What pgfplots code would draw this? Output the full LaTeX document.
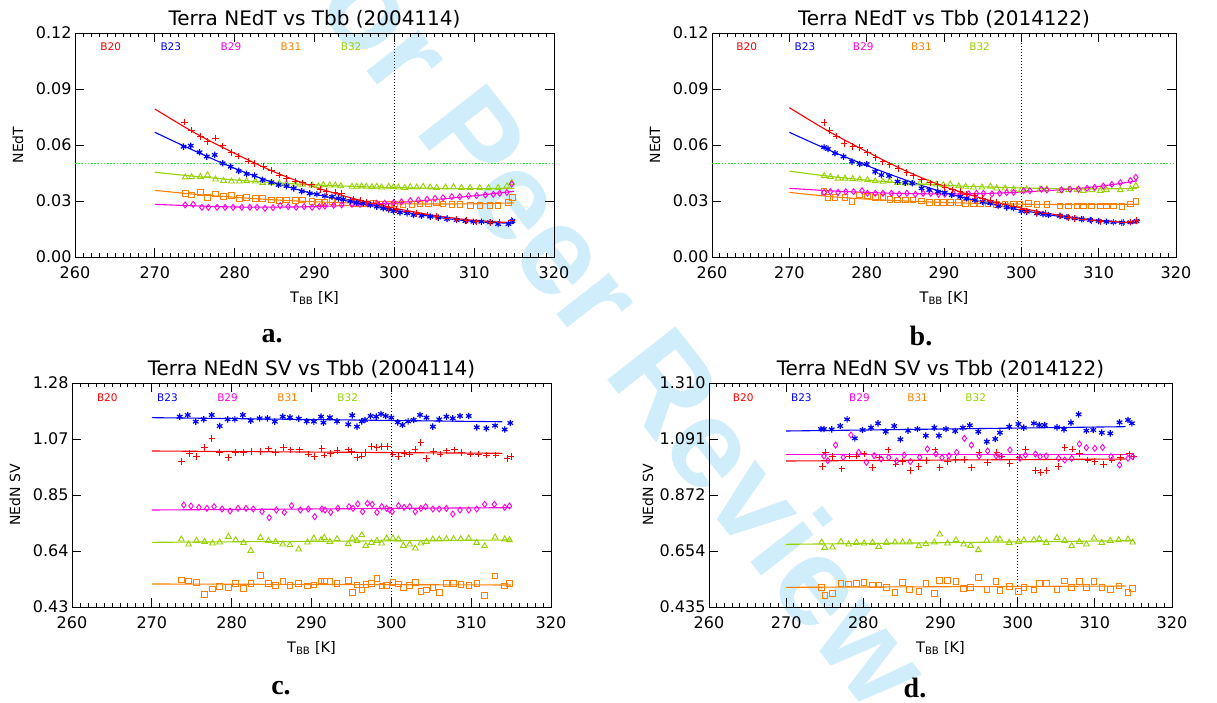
\documentclass[border=0pt]{standalone}
\usepackage{fontspec}
\setmainfont{DejaVu Sans}
\newfontfamily\serifb{Liberation Serif}
\newfontfamily\wmfont{Liberation Sans}
\usepackage{pgfplots}
\pgfplotsset{compat=1.18}
\definecolor{c20}{RGB}{255,0,0}
\definecolor{c23}{RGB}{0,0,255}
\definecolor{c29}{RGB}{255,0,220}
\definecolor{c31}{RGB}{255,128,0}
\definecolor{c32}{RGB}{150,210,0}
\definecolor{wm}{RGB}{207,237,250}
\definecolor{gline}{RGB}{40,230,40}
\pgfplotsset{
  myax/.style={
    scale only axis, anchor=south west, height=224pt,
    xmin=260, xmax=320, xtick={260,270,...,320}, minor x tick num=9,
    axis line style={line width=0.9pt},
    major tick length=9pt, minor tick length=4pt,
    tick style={black, line width=0.8pt},
    tick align=inside,
    /pgf/number format/assume math mode=true,
    ticklabel style={font=\fontsize{16}{18}\selectfont},
    xticklabel style={yshift=-6pt},
    title style={font=\fontsize{20}{24}\selectfont, yshift=-5pt},
    xlabel={T\textsubscript{BB} [K]},
    xlabel style={font=\fontsize{14.5}{16}\selectfont, at={(axis description cs:0.5,-0.183)}, anchor=center},
    ylabel style={font=\fontsize{14}{16}\selectfont, rotate=0, anchor=center},
  },
  s20/.style={only marks, mark=+, color=c20, mark size=3.2pt, line width=1pt},
  s23/.style={only marks, mark=asterisk, color=c23, mark size=3.2pt, line width=1.2pt},
  s29/.style={only marks, mark=diamond, color=c29, mark size=3pt, line width=0.9pt},
  s31/.style={only marks, mark=square, color=c31, mark size=2.8pt, line width=0.9pt},
  s32/.style={only marks, mark=triangle, color=c32, mark size=3.3pt, line width=0.9pt},
  l20/.style={color=c20, no marks, line width=1.1pt, smooth},
  l23/.style={color=c23, no marks, line width=1.1pt, smooth},
  l29/.style={color=c29, no marks, line width=1.1pt, smooth},
  l31/.style={color=c31, no marks, line width=1.1pt, smooth},
  l32/.style={color=c32, no marks, line width=1.1pt, smooth},
  vdot/.style={color=black, no marks, line width=0.8pt, dash pattern=on 1pt off 2pt},
  gdot/.style={draw=gline, color=gline, no marks, line width=1.2pt, dash pattern=on 1.6pt off 1.6pt},
}
\newcommand{\bandlabels}[2]{%
  \node[text=c20, font=\fontsize{10.5}{12}\selectfont] at (axis description cs:#1,#2) {B20};
  \node[text=c23, font=\fontsize{10.5}{12}\selectfont] at (axis description cs:#1+0.1255,#2) {B23};
  \node[text=c29, font=\fontsize{10.5}{12}\selectfont] at (axis description cs:#1+0.251,#2) {B29};
  \node[text=c31, font=\fontsize{10.5}{12}\selectfont] at (axis description cs:#1+0.3765,#2) {B31};
  \node[text=c32, font=\fontsize{10.5}{12}\selectfont] at (axis description cs:#1+0.502,#2) {B32};
}
\begin{document}
\begin{tikzpicture}
\path[use as bounding box] (0pt,0pt) rectangle (1217pt,702pt);
\node[rotate=-52, text=wm, font=\wmfont\bfseries\fontsize{126}{128}\selectfont] at (604pt,400pt) {For Peer Review};

% ---------------- panel a ----------------
\begin{axis}[myax, at={(75pt,445pt)}, width=479pt,
  ymin=0, ymax=0.12, ytick={0,0.03,0.06,0.09,0.12}, yticklabels={0.00,0.03,0.06,0.09,0.12},
  title={Terra NEdT vs Tbb (2004114)}, ylabel={NEdT},
  ylabel style={at={(axis description cs:-0.119,0.5)}}]
\addplot[gdot] coordinates {(260,0.05)(320,0.05)};
\addplot[vdot] coordinates {(300,0)(300,0.12)};
\addplot[l32] coordinates {(270,0.0454)(275,0.0432)(280,0.0413)(285,0.0398)(290,0.0386)(295,0.0378)(300,0.0372)(305,0.0368)(310,0.0366)(315,0.0368)};
\addplot[s32] coordinates {(273.8,0.0427)(274.6,0.0429)(275.7,0.0430)(276.6,0.0439)(277.6,0.0416)(278.6,0.0409)(279.6,0.0405)(280.6,0.0405)(281.5,0.0407)(282.6,0.0405)(283.5,0.0398)(284.6,0.0398)(285.6,0.0395)(286.5,0.0391)(287.6,0.0389)(288.5,0.0388)(289.7,0.0384)(290.5,0.0380)(291.1,0.0386)(291.9,0.0384)(292.6,0.0384)(293.3,0.0380)(294.7,0.0377)(295.3,0.0377)(295.9,0.0379)(296.5,0.0377)(297.2,0.0375)(297.8,0.0377)(298.4,0.0373)(299.3,0.0377)(299.9,0.0375)(300.5,0.0373)(301.3,0.0371)(302.0,0.0375)(302.8,0.0373)(303.6,0.0377)(304.5,0.0373)(305.3,0.0371)(306.4,0.0373)(307.4,0.0375)(308.4,0.0371)(309.5,0.0371)(310.7,0.0370)(311.8,0.0370)(313.0,0.0371)(314.1,0.0380)(314.7,0.0398)};
\addplot[l31] coordinates {(270,0.0357)(275,0.0336)(280,0.0320)(285,0.0306)(290,0.0296)(295,0.0289)(300,0.0285)(305,0.0284)(310,0.0285)(315,0.0290)};
\addplot[s31] coordinates {(273.8,0.0341)(274.6,0.0332)(275.7,0.0345)(276.6,0.0318)(277.6,0.0338)(278.6,0.0323)(279.6,0.0329)(280.6,0.0314)(281.5,0.0318)(282.6,0.0314)(283.5,0.0314)(284.6,0.0305)(285.6,0.0302)(286.5,0.0305)(287.6,0.0302)(288.5,0.0305)(289.7,0.0296)(290.5,0.0291)(291.3,0.0293)(292.2,0.0296)(293.0,0.0291)(294.0,0.0291)(294.9,0.0288)(295.7,0.0288)(296.5,0.0284)(297.4,0.0288)(298.2,0.0284)(299.3,0.0282)(300.1,0.0284)(301.1,0.0282)(302.2,0.0282)(303.2,0.0284)(304.3,0.0288)(305.3,0.0291)(306.1,0.0284)(307.2,0.0282)(308.2,0.0282)(309.5,0.0275)(310.7,0.0275)(312.0,0.0275)(313.0,0.0275)(314.3,0.0291)(314.8,0.0320)};
\addplot[l29] coordinates {(270,0.0282)(275,0.0274)(280,0.0268)(285,0.0267)(290,0.0270)(295,0.0278)(300,0.0290)(305,0.0307)(310,0.0328)(315,0.0352)};
\addplot[s29] coordinates {(273.8,0.0279)(274.8,0.0282)(275.9,0.0266)(276.7,0.0266)(277.8,0.0266)(278.8,0.0266)(279.8,0.0266)(280.9,0.0266)(281.9,0.0266)(282.8,0.0266)(283.8,0.0261)(284.8,0.0264)(285.7,0.0275)(286.7,0.0270)(287.7,0.0266)(288.7,0.0270)(289.7,0.0266)(290.6,0.0270)(291.3,0.0273)(292.4,0.0277)(293.4,0.0279)(294.7,0.0282)(295.7,0.0282)(296.7,0.0284)(297.8,0.0288)(298.8,0.0288)(299.9,0.0291)(300.9,0.0296)(302.0,0.0302)(303.0,0.0305)(304.1,0.0309)(305.1,0.0314)(306.1,0.0318)(307.2,0.0323)(308.2,0.0323)(309.3,0.0327)(310.3,0.0329)(311.4,0.0332)(312.4,0.0336)(313.2,0.0341)(314.1,0.0346)(314.7,0.0391)};
\addplot[l23] coordinates {(270,0.0668)(275,0.0568)(280,0.0475)(285,0.0397)(290,0.0338)(295,0.0292)(300,0.0250)(305,0.0215)(310,0.0190)(315,0.0180)};
\addplot[s23] coordinates {(273.6,0.0591)(274.5,0.0596)(275.6,0.0561)(276.5,0.0538)(277.5,0.0547)(278.5,0.0502)(279.5,0.0484)(280.5,0.0461)(281.5,0.0445)(282.5,0.0436)(283.5,0.0413)(284.6,0.0400)(285.5,0.0386)(286.5,0.0380)(287.4,0.0368)(288.4,0.0352)(289.4,0.0341)(290.3,0.0336)(291.3,0.0327)(292.2,0.0323)(293.0,0.0314)(293.6,0.0309)(294.5,0.0300)(295.3,0.0291)(296.1,0.0288)(297.0,0.0279)(297.8,0.0270)(298.6,0.0261)(299.3,0.0255)(299.9,0.0246)(300.7,0.0239)(301.6,0.0234)(302.4,0.0225)(303.4,0.0221)(304.5,0.0216)(305.5,0.0211)(306.6,0.0204)(307.8,0.0198)(308.9,0.0193)(309.9,0.0189)(310.9,0.0189)(312.0,0.0186)(313.0,0.0177)(314.3,0.0177)(314.8,0.0193)};
\addplot[l20] coordinates {(270,0.0793)(275,0.0665)(280,0.0555)(285,0.0455)(290,0.0375)(295,0.0312)(300,0.0262)(305,0.0223)(310,0.0196)(315,0.0184)};
\addplot[s20] coordinates {(273.7,0.0723)(274.6,0.0680)(275.7,0.0645)(276.6,0.0618)(277.6,0.0636)(278.5,0.0595)(279.6,0.0560)(280.5,0.0540)(281.7,0.0514)(282.5,0.0500)(283.6,0.0484)(284.6,0.0463)(285.6,0.0439)(286.5,0.0421)(287.6,0.0407)(288.5,0.0398)(289.6,0.0386)(290.7,0.0362)(291.5,0.0350)(292.6,0.0345)(293.4,0.0341)(294.9,0.0310)(295.7,0.0305)(296.5,0.0296)(297.4,0.0288)(298.2,0.0279)(299.3,0.0266)(300.3,0.0255)(301.6,0.0243)(302.8,0.0234)(304.1,0.0225)(305.3,0.0216)(306.6,0.0207)(307.8,0.0202)(309.1,0.0195)(310.3,0.0189)(312.0,0.0184)(313.2,0.0184)(314.7,0.0195)};
\bandlabels{0.0745}{0.9375}
\end{axis}

% ---------------- panel b ----------------
\begin{axis}[myax, at={(712pt,445pt)}, width=464pt,
  ymin=0, ymax=0.12, ytick={0,0.03,0.06,0.09,0.12}, yticklabels={0.00,0.03,0.06,0.09,0.12},
  title={Terra NEdT vs Tbb (2014122)}, ylabel={NEdT},
  ylabel style={at={(axis description cs:-0.123,0.5)}}]
\addplot[gdot] coordinates {(260,0.05)(320,0.05)};
\addplot[vdot] coordinates {(300,0)(300,0.12)};
\addplot[l32] coordinates {(270,0.0460)(275,0.0433)(280,0.0412)(285,0.0396)(290,0.0384)(295,0.0376)(300,0.0370)(305,0.0366)(310,0.0365)(315,0.0367)};
\addplot[s32] coordinates {(274.5,0.0434)(275.3,0.0430)(276.3,0.0421)(277.2,0.0421)(278.2,0.0418)(279.1,0.0416)(280.1,0.0413)(281.1,0.0407)(282.1,0.0404)(283.0,0.0407)(284.0,0.0398)(285.0,0.0395)(286.0,0.0395)(286.9,0.0395)(288.0,0.0398)(289.0,0.0389)(289.9,0.0386)(290.8,0.0389)(291.9,0.0380)(292.8,0.0377)(293.8,0.0373)(294.9,0.0373)(296.0,0.0377)(296.8,0.0368)(297.9,0.0368)(299.0,0.0363)(300.0,0.0359)(300.7,0.0363)(302.4,0.0363)(303.3,0.0363)(305.0,0.0355)(306.1,0.0359)(307.2,0.0359)(308.0,0.0355)(309.1,0.0359)(310.2,0.0355)(311.0,0.0359)(312.8,0.0359)(314.1,0.0364)(314.8,0.0382)};
\addplot[l31] coordinates {(270,0.0346)(275,0.0325)(280,0.0310)(285,0.0300)(290,0.0292)(295,0.0287)(300,0.0283)(305,0.0281)(310,0.0281)(315,0.0283)};
\addplot[s31] coordinates {(274.5,0.0350)(275.0,0.0318)(275.9,0.0318)(277.2,0.0318)(278.1,0.0296)(279.1,0.0332)(280.1,0.0327)(281.1,0.0318)(282.1,0.0318)(283.0,0.0309)(284.0,0.0305)(285.0,0.0305)(286.0,0.0305)(287.1,0.0300)(288.1,0.0293)(289.1,0.0293)(289.9,0.0293)(290.8,0.0291)(291.9,0.0291)(292.8,0.0288)(293.8,0.0288)(294.7,0.0284)(295.7,0.0284)(296.8,0.0282)(297.9,0.0284)(299.0,0.0284)(299.8,0.0284)(300.9,0.0288)(302.0,0.0282)(303.3,0.0282)(305.0,0.0273)(306.1,0.0273)(307.2,0.0273)(308.0,0.0273)(309.1,0.0273)(310.2,0.0273)(311.0,0.0273)(311.9,0.0273)(313.0,0.0270)(314.1,0.0284)(314.8,0.0296)};
\addplot[l29] coordinates {(270,0.0368)(275,0.0355)(280,0.0346)(285,0.0340)(290,0.0338)(295,0.0340)(300,0.0348)(305,0.0360)(310,0.0378)(315,0.0408)};
\addplot[s29] coordinates {(274.5,0.0346)(275.3,0.0350)(276.3,0.0346)(277.3,0.0350)(278.3,0.0350)(279.4,0.0355)(280.1,0.0341)(281.1,0.0341)(282.1,0.0341)(283.2,0.0341)(284.2,0.0336)(285.2,0.0341)(286.3,0.0336)(287.3,0.0341)(288.3,0.0341)(289.3,0.0336)(290.1,0.0336)(291.2,0.0341)(292.1,0.0336)(293.2,0.0338)(294.2,0.0341)(295.1,0.0341)(296.2,0.0338)(297.2,0.0341)(298.1,0.0345)(299.0,0.0346)(300.3,0.0355)(301.1,0.0355)(302.6,0.0363)(303.3,0.0359)(305.2,0.0359)(306.3,0.0363)(307.4,0.0363)(308.5,0.0368)(309.5,0.0373)(310.6,0.0380)(311.7,0.0389)(312.8,0.0398)(314.1,0.0409)(314.8,0.0427)};
\addplot[l23] coordinates {(270,0.0668)(275,0.0575)(280,0.0490)(285,0.0413)(290,0.0346)(295,0.0294)(300,0.0251)(305,0.0217)(310,0.0193)(315,0.0182)};
\addplot[s23] coordinates {(274.5,0.0588)(275.0,0.0579)(275.9,0.0556)(277.0,0.0538)(278.1,0.0511)(279.1,0.0498)(280.0,0.0498)(281.1,0.0457)(281.9,0.0439)(282.9,0.0434)(284.0,0.0404)(285.0,0.0398)(285.9,0.0395)(287.1,0.0368)(288.1,0.0359)(289.2,0.0350)(290.1,0.0345)(291.0,0.0332)(292.1,0.0323)(292.9,0.0314)(294.0,0.0305)(295.0,0.0296)(296.0,0.0288)(297.0,0.0273)(298.1,0.0266)(299.0,0.0261)(300.0,0.0246)(300.7,0.0243)(302.0,0.0234)(302.8,0.0230)(303.5,0.0225)(305.0,0.0220)(305.9,0.0213)(306.9,0.0207)(307.8,0.0202)(308.9,0.0198)(310.0,0.0193)(311.0,0.0189)(311.9,0.0186)(313.0,0.0184)(314.1,0.0186)(314.9,0.0193)};
\addplot[l20] coordinates {(270,0.0800)(275,0.0675)(280,0.0565)(285,0.0462)(290,0.0378)(295,0.0313)(300,0.0262)(305,0.0223)(310,0.0196)(315,0.0183)};
\addplot[s20] coordinates {(274.5,0.0721)(275.2,0.0677)(276.1,0.0648)(277.1,0.0609)(278.2,0.0591)(279.1,0.0586)(280.1,0.0560)(281.2,0.0532)(282.1,0.0510)(283.0,0.0493)(284.1,0.0475)(285.2,0.0452)(286.0,0.0434)(287.1,0.0413)(288.2,0.0398)(289.2,0.0389)(290.1,0.0373)(291.1,0.0359)(292.1,0.0350)(292.9,0.0336)(294.0,0.0327)(295.0,0.0314)(296.0,0.0305)(296.8,0.0293)(297.9,0.0279)(299.0,0.0270)(300.0,0.0255)(300.7,0.0246)(302.0,0.0238)(303.1,0.0234)(305.0,0.0220)(306.1,0.0211)(306.9,0.0207)(308.0,0.0202)(309.1,0.0195)(310.2,0.0189)(311.9,0.0189)(313.2,0.0184)(314.1,0.0189)(314.9,0.0195)};
\bandlabels{0.0748}{0.9375}
\end{axis}

% ---------------- panel c ----------------
\begin{axis}[myax, at={(72pt,95pt)}, width=479pt,
  ymin=0.43, ymax=1.28, ytick={0.43,0.6425,0.855,1.0675,1.28}, yticklabels={0.43,0.64,0.85,1.07,1.28},
  title={Terra NEdN SV vs Tbb (2004114)}, ylabel={NEdN SV},
  ylabel style={at={(axis description cs:-0.119,0.5)}}]
\addplot[vdot] coordinates {(300,0.43)(300,1.28)};
\addplot[l32] coordinates {(270,0.6754)(315,0.6843)};
\addplot[s32] coordinates {(273.7,0.6868)(274.6,0.6678)(275.6,0.6817)(276.6,0.6779)(277.6,0.6716)(278.5,0.6754)(279.6,0.6969)(280.5,0.6843)(281.5,0.6741)(282.4,0.6438)(283.6,0.6931)(284.6,0.6817)(285.5,0.6779)(286.4,0.6678)(287.3,0.6653)(288.4,0.6488)(289.5,0.6754)(290.3,0.6906)(291.2,0.6843)(291.6,0.6931)(292.3,0.6779)(293.2,0.6881)(294.6,0.6691)(295.1,0.6906)(295.7,0.6805)(296.3,0.7032)(296.8,0.6628)(297.5,0.6741)(298.2,0.6817)(298.8,0.6716)(299.4,0.6906)(300.2,0.6906)(300.9,0.6868)(301.5,0.6628)(302.3,0.6678)(303.0,0.6526)(303.7,0.6716)(304.4,0.6779)(305.2,0.6868)(306.0,0.6868)(306.9,0.6881)(307.8,0.6881)(308.7,0.6881)(309.7,0.6906)(310.7,0.6741)(311.7,0.6615)(313.0,0.6944)(314.2,0.6868)(314.8,0.6843)};
\addplot[l31] coordinates {(270,0.5173)(315,0.5135)};
\addplot[s31] coordinates {(273.7,0.5325)(274.6,0.5287)(275.6,0.5236)(276.6,0.4781)(277.6,0.4983)(278.5,0.5072)(279.6,0.5034)(280.5,0.5198)(281.5,0.5008)(282.4,0.5198)(283.6,0.5489)(284.6,0.5198)(285.5,0.5110)(286.4,0.5261)(287.3,0.5110)(288.4,0.5198)(289.5,0.5097)(290.3,0.5135)(291.2,0.5287)(291.6,0.5287)(292.3,0.5261)(293.2,0.5198)(294.6,0.5299)(295.1,0.4844)(295.7,0.5135)(296.3,0.4945)(296.8,0.5160)(297.5,0.5198)(298.2,0.5388)(298.8,0.5097)(299.4,0.5110)(300.2,0.5223)(300.9,0.5173)(301.5,0.5046)(302.3,0.5110)(303.0,0.5223)(303.7,0.4882)(304.4,0.4945)(305.2,0.5046)(306.0,0.4857)(306.9,0.5198)(307.8,0.5198)(308.7,0.5160)(309.7,0.5110)(310.7,0.5198)(311.7,0.4730)(313.0,0.5476)(314.2,0.5097)(314.8,0.5198)};
\addplot[l29] coordinates {(270,0.7981)(315,0.8070)};
\addplot[s29] coordinates {(274.0,0.8171)(274.9,0.8133)(275.9,0.8082)(276.9,0.8044)(277.8,0.8108)(278.8,0.8019)(279.8,0.7943)(280.8,0.8044)(281.8,0.8044)(282.7,0.8019)(283.8,0.7918)(284.7,0.7690)(285.6,0.7981)(286.6,0.7893)(287.5,0.8146)(288.6,0.7981)(289.6,0.8019)(290.4,0.7728)(291.3,0.8019)(291.7,0.7981)(292.4,0.7893)(293.3,0.8044)(294.7,0.8108)(295.2,0.8044)(295.8,0.8209)(296.4,0.7918)(297.0,0.8234)(297.6,0.8196)(298.2,0.7893)(298.8,0.8108)(299.4,0.8044)(299.8,0.7981)(300.1,0.7918)(300.9,0.8146)(301.6,0.8082)(302.3,0.8108)(303.0,0.7918)(303.7,0.8044)(304.3,0.8108)(305.2,0.8019)(306.0,0.8019)(306.9,0.8044)(307.7,0.7829)(308.6,0.7981)(309.7,0.7981)(310.7,0.8019)(311.7,0.8196)(312.9,0.8196)(314.2,0.8082)(314.8,0.8133)};
\addplot[l23] coordinates {(270,1.1485)(313.9,1.1330)};
\addplot[s23] coordinates {(273.5,1.1523)(274.5,1.1587)(275.5,1.1334)(276.5,1.1422)(277.5,1.1587)(278.5,1.1169)(279.5,1.1422)(280.4,1.1422)(281.4,1.1587)(282.4,1.1370)(283.5,1.1460)(284.5,1.1460)(285.4,1.1334)(286.4,1.1523)(287.3,1.1498)(288.4,1.1447)(289.4,1.1346)(290.3,1.1334)(291.2,1.1523)(291.5,1.1296)(292.3,1.1498)(293.2,1.1346)(294.6,1.1232)(295.1,1.1574)(295.7,1.1144)(296.3,1.1346)(296.7,1.1397)(297.4,1.1549)(298.1,1.1523)(298.7,1.1624)(299.3,1.1549)(300.0,1.1485)(300.8,1.1308)(301.4,1.1207)(302.1,1.1346)(302.8,1.1397)(303.6,1.1587)(304.4,1.1485)(305.2,1.1144)(306.0,1.1422)(306.9,1.1523)(307.7,1.1460)(308.6,1.1549)(309.7,1.1549)(310.7,1.1118)(311.9,1.1080)(313.0,1.1182)(314.2,1.1036)(314.9,1.1283)};
\addplot[l20] coordinates {(270,1.0220)(313.9,1.0132)};
\addplot[s20] coordinates {(273.7,0.9815)(274.7,1.0132)(275.6,1.0005)(276.6,1.0347)(277.5,1.0701)(278.5,1.0170)(279.6,0.9980)(280.5,1.0170)(281.5,1.0170)(282.5,1.0195)(283.6,1.0195)(284.6,1.0296)(285.5,1.0157)(286.5,1.0360)(287.4,1.0258)(288.5,1.0258)(289.6,1.0106)(290.4,1.0005)(291.3,1.0321)(291.6,1.0068)(292.4,1.0132)(293.2,1.0233)(294.6,1.0258)(295.0,1.0195)(295.7,0.9980)(296.3,1.0030)(296.8,1.0157)(297.5,1.0385)(298.2,1.0360)(298.8,1.0385)(299.5,1.0385)(300.2,1.0106)(300.9,1.0005)(301.6,1.0132)(302.3,1.0106)(303.0,1.0283)(303.7,1.0549)(304.4,0.9942)(305.3,1.0195)(306.1,1.0106)(306.9,1.0220)(307.9,1.0258)(308.8,1.0157)(309.9,1.0106)(310.9,1.0106)(311.9,1.0068)(313.1,1.0068)(314.5,0.9942)(315.0,1.0005)};
\bandlabels{0.0737}{0.936}
\end{axis}

% ---------------- panel d ----------------
\begin{axis}[myax, at={(709pt,95pt)}, width=463pt,
  ymin=0.435, ymax=1.31, ytick={0.435,0.65375,0.8725,1.09125,1.31}, yticklabels={0.435,0.654,0.872,1.091,1.310},
  title={Terra NEdN SV vs Tbb (2014122)}, ylabel={NEdN SV},
  ylabel style={at={(axis description cs:-0.132,0.5)}}]
\addplot[vdot] coordinates {(300,0.435)(300,1.31)};
\addplot[l32] coordinates {(270,0.6798)(315,0.6941)};
\addplot[s32] coordinates {(274.6,0.6876)(275.0,0.6668)(276.0,0.6681)(277.1,0.6902)(278.1,0.6798)(279.1,0.6863)(280.1,0.6837)(281.2,0.6863)(282.0,0.6707)(283.0,0.6863)(284.1,0.6876)(285.1,0.6876)(286.0,0.6876)(287.2,0.6733)(288.1,0.6811)(289.2,0.6876)(289.9,0.7189)(290.9,0.6837)(292.0,0.6967)(293.0,0.6798)(293.9,0.6746)(294.9,0.6577)(296.0,0.6941)(297.2,0.6993)(297.7,0.6993)(298.9,0.6863)(300.1,0.6902)(300.8,0.6967)(302.1,0.6967)(302.8,0.7006)(303.7,0.6863)(305.1,0.7058)(306.1,0.6941)(307.0,0.6733)(308.0,0.6902)(308.9,0.6798)(309.9,0.7032)(310.9,0.6863)(312.0,0.6941)(313.1,0.6967)(314.3,0.6993)(314.9,0.6876)};
\addplot[l31] coordinates {(270,0.5118)(314,0.5170)};
\addplot[s31] coordinates {(274.6,0.5118)(275.0,0.4793)(276.0,0.4884)(277.1,0.5274)(278.1,0.5248)(279.1,0.5274)(280.1,0.5301)(281.2,0.5209)(282.0,0.5209)(283.0,0.5105)(284.1,0.4910)(285.1,0.5301)(286.0,0.5040)(287.2,0.4949)(288.1,0.5274)(289.2,0.4884)(289.9,0.5379)(290.9,0.5379)(292.0,0.5340)(293.0,0.5079)(293.9,0.5105)(294.9,0.5509)(296.0,0.5040)(297.2,0.5340)(297.7,0.4988)(298.9,0.5144)(300.1,0.4949)(300.8,0.5118)(302.1,0.5014)(302.8,0.5274)(303.7,0.5274)(305.1,0.5040)(306.1,0.5366)(307.0,0.5118)(308.0,0.5340)(308.9,0.5118)(309.9,0.5340)(310.9,0.5105)(312.0,0.5040)(313.1,0.5170)(314.3,0.4910)(314.9,0.5079)};
\addplot[l20] coordinates {(270,1.0053)(314,1.0131)};
\addplot[s20] coordinates {(274.7,0.9832)(275.1,1.0392)(276.0,1.0222)(277.2,0.9741)(278.2,1.0248)(279.1,1.0248)(280.1,1.0327)(281.2,0.9806)(282.1,1.0196)(283.2,1.0483)(284.2,0.9936)(285.1,1.0027)(286.1,0.9676)(287.2,0.9832)(288.2,1.0066)(289.3,1.0483)(289.9,0.9793)(290.9,1.0027)(292.0,1.0118)(293.1,1.0118)(294.0,0.9806)(295.0,1.0392)(296.1,1.0001)(297.3,1.0392)(297.9,1.0222)(299.0,0.9962)(300.2,1.0196)(301.0,1.0522)(302.3,0.9676)(303.0,0.9597)(303.8,0.9676)(305.3,0.9832)(306.1,1.0587)(307.1,1.0522)(308.0,1.0353)(309.1,1.0092)(310.0,1.0027)(311.1,0.9923)(312.2,1.0092)(313.3,1.0183)(314.5,1.0327)(315.0,1.0222)};
\addplot[l29] coordinates {(270,1.0314)(314.3,1.0314)};
\addplot[s29] coordinates {(274.9,1.0248)(275.4,1.0066)(276.4,1.0678)(277.4,1.0196)(278.4,1.1069)(279.4,1.0392)(280.4,1.0001)(281.4,1.0261)(282.3,1.0131)(283.3,1.0196)(284.3,1.0053)(285.3,1.0288)(286.1,1.0027)(287.3,1.0196)(288.3,1.0522)(289.4,1.0327)(290.2,1.0183)(291.1,1.0261)(292.1,1.0392)(293.1,1.0939)(294.0,1.0678)(295.0,1.0248)(296.1,1.0444)(297.2,1.0261)(297.8,1.0222)(299.0,1.0483)(300.3,1.0157)(301.0,1.0288)(302.3,1.0327)(302.9,1.0222)(303.7,1.0248)(305.3,1.0157)(306.1,1.0092)(307.0,1.0157)(308.0,1.0717)(308.9,1.0574)(310.0,1.0548)(311.0,1.0587)(312.1,1.0222)(313.2,0.9897)(314.3,1.0157)(314.9,1.0222)};
\addplot[l23] coordinates {(270,1.1225)(314,1.1394)};
\addplot[s23] coordinates {(274.5,1.1303)(274.9,1.1303)(275.9,1.1290)(277.0,1.1420)(277.9,1.1681)(278.9,1.0939)(279.9,1.1264)(281.0,1.1355)(281.9,1.1524)(282.9,1.1199)(284.0,1.1420)(284.8,1.0899)(285.8,1.1238)(287.0,1.1303)(288.1,1.1043)(289.2,1.1355)(289.8,1.1043)(290.7,1.1303)(291.9,1.1225)(292.9,1.1355)(293.8,1.1446)(294.9,1.1199)(296.0,1.0808)(297.1,1.0913)(297.7,1.1160)(298.9,1.1394)(300.1,1.1498)(300.8,1.1355)(302.1,1.1524)(302.8,1.1459)(303.5,1.1459)(305.1,1.1368)(306.0,1.1290)(306.9,1.1550)(307.9,1.1876)(308.9,1.1238)(309.8,1.1264)(310.9,1.1160)(312.0,1.1134)(313.2,1.1564)(314.3,1.1655)(314.8,1.1524)};
\bandlabels{0.074}{0.936}
\end{axis}

\node[font=\serifb\bfseries\fontsize{28}{30}\selectfont] at (272pt,366pt) {a.};
\node[font=\serifb\bfseries\fontsize{28}{30}\selectfont] at (921pt,366pt) {b.};
\node[font=\serifb\bfseries\fontsize{28}{30}\selectfont] at (281pt,14pt) {c.};
\node[font=\serifb\bfseries\fontsize{28}{30}\selectfont] at (915pt,14pt) {d.};
\end{tikzpicture}
\end{document}
